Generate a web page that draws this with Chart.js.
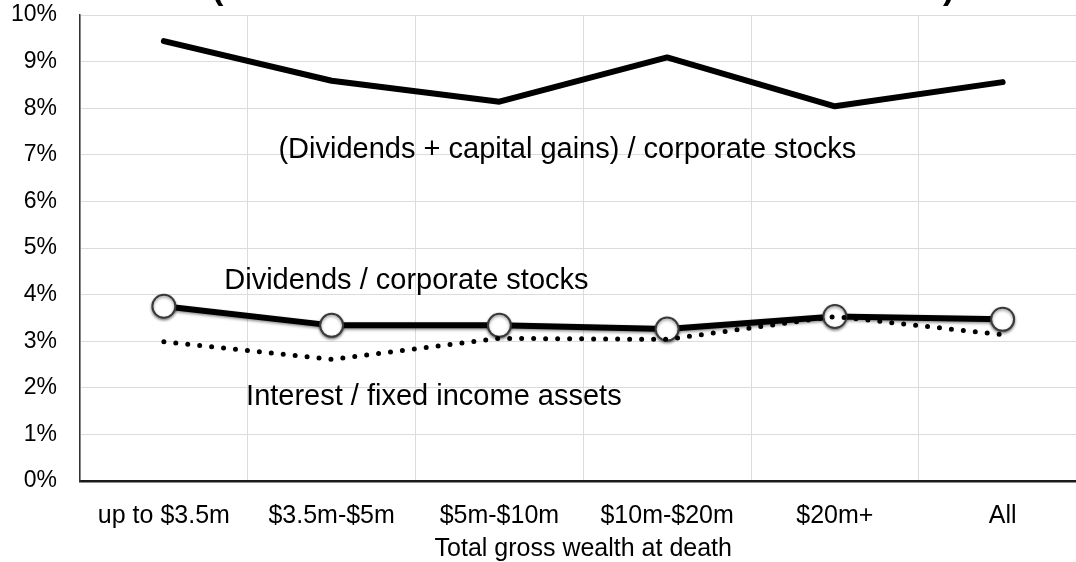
<!DOCTYPE html>
<html>
<head>
<meta charset="utf-8">
<script src="https://cdn.jsdelivr.net/npm/chart.js@4.4.1/dist/chart.umd.min.js"></script>
<style>
	html, body { margin: 0; padding: 0; background: #ffffff; overflow: hidden; }
	#wrap { width: 1100px; height: 562px; }
</style>
</head>
<body>
<div id="wrap"><canvas id="chart" width="1100" height="562"></canvas></div>
<script>
/**
 * data (percent)
 */
const categories = ["up to $3.5m", "$3.5m-$5m", "$5m-$10m", "$10m-$20m", "$20m+", "All"];
const totalReturn = [9.44, 8.59, 8.14, 9.09, 8.04, 8.56];
const dividendYield = [3.75, 3.34, 3.34, 3.26, 3.53, 3.47];
const interestYield = [2.99, 2.61, 3.06, 3.04, 3.53, 3.14];
const yTicks = [0, 1, 2, 3, 4, 5, 6, 7, 8, 9, 10];

const fontFamily = "'Liberation Sans', Arial, sans-serif";
const lineColor = "#000000";
const gridColor = "#dcdcdc";

// in-chart labels, anchored at (category index, value) of their left baseline
const seriesLabels = [
	{ text: "(Dividends + capital gains) / corporate stocks", x: 0.683, y: 6.93 },
	{ text: "Dividends / corporate stocks", x: 0.36, y: 4.13 },
	{ text: "Interest / fixed income assets", x: 0.49, y: 1.63 }
];

/**
 * draws the series labels and the clipped title brackets
 */
const textPlugin = {
	id: "seriesText",
	afterDraw(chart) {
		const ctx = chart.ctx;
		const xs = chart.scales.x;
		const ys = chart.scales.y;
		ctx.save();
		ctx.fillStyle = "#000000";
		ctx.textAlign = "left";
		ctx.textBaseline = "alphabetic";
		ctx.font = "29px " + fontFamily;
		seriesLabels.forEach(l => {
			const px = xs.getPixelForValue(0) + l.x * (xs.getPixelForValue(1) - xs.getPixelForValue(0));
			ctx.fillText(l.text, px, ys.getPixelForValue(l.y));
		});
		// title sits above the canvas, only the bracket tails show
		ctx.font = "bold 34px " + fontFamily;
		ctx.fillText("(", 212, -1);
		ctx.fillText(")", 943, -1);
		ctx.restore();
	}
};

/**
 * soft shadow under the round markers
 */
const shadowPlugin = {
	id: "markerShadow",
	beforeDatasetDraw(chart, args) {
		if (chart.data.datasets[args.index].shadow) {
			chart.ctx.save();
			chart.ctx.shadowColor = "rgba(0,0,0,0.45)";
			chart.ctx.shadowBlur = 3;
			chart.ctx.shadowOffsetY = 1.5;
		}
	},
	afterDatasetDraw(chart, args) {
		if (chart.data.datasets[args.index].shadow) {
			chart.ctx.restore();
		}
	}
};

const config = {
	type: "line",
	data: {
		labels: categories,
		datasets: [
			{
				label: "Interest / fixed income assets",
				data: interestYield,
				borderColor: lineColor,
				borderWidth: 5,
				borderDash: [0, 12],
				borderCapStyle: "round",
				pointRadius: 0,
				order: 0
			},
			{
				label: "Dividends / corporate stocks",
				data: dividendYield,
				borderColor: lineColor,
				borderWidth: 6,
				borderJoinStyle: "round",
				pointRadius: 11.5,
				pointBorderWidth: 2,
				pointBorderColor: "#3a3a3a",
				pointBackgroundColor: "#ffffff",
				shadow: true,
				order: 1
			},
			{
				label: "(Dividends + capital gains) / corporate stocks",
				data: totalReturn,
				borderColor: lineColor,
				borderWidth: 6,
				borderJoinStyle: "round",
				borderCapStyle: "round",
				pointRadius: 0,
				order: 2
			}
		]
	},
	options: {
		responsive: false,
		animation: false,
		layout: { padding: { left: 0, right: 12, top: 15, bottom: 0 } },
		scales: {
			x: {
				type: "category",
				offset: true,
				grid: { offset: true, color: gridColor, lineWidth: 1, drawTicks: false },
				border: { color: "#1a1a1a", width: 2.5 },
				ticks: {
					color: "#000000",
					padding: 20,
					maxRotation: 0,
					autoSkip: false,
					font: { family: fontFamily, size: 25 }
				},
				title: {
					display: true,
					text: "Total gross wealth at death",
					color: "#000000",
					padding: 0,
					font: { family: fontFamily, size: 25, lineHeight: 1 }
				},
				afterFit(scale) {
					scale.height = 81;
					scale.paddingLeft = 0;
					scale.paddingRight = 0;
				}
			},
			y: {
				min: yTicks[0],
				max: yTicks[yTicks.length - 1],
				afterBuildTicks(scale) { scale.ticks = yTicks.map(v => ({ value: v })); },
				grid: { color: gridColor, lineWidth: 1, drawTicks: false },
				border: { color: "#333333", width: 1.5 },
				ticks: {
					color: "#000000",
					padding: 23,
					font: { family: fontFamily, size: 23 },
					callback: v => v + "%"
				},
				afterFit(scale) {
					scale.width = 80;
					scale.paddingTop = 0;
					scale.paddingBottom = 0;
				}
			}
		},
		plugins: {
			legend: { display: false },
			tooltip: { enabled: false }
		}
	},
	plugins: [textPlugin, shadowPlugin]
};

new Chart(document.getElementById("chart"), config);
</script>
</body>
</html>
